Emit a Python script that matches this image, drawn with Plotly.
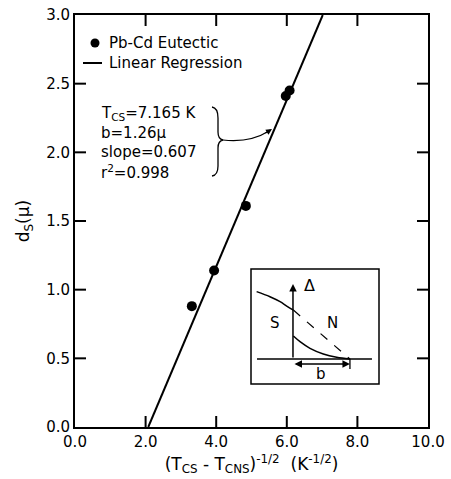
import plotly.graph_objects as go

# ---------------- data ----------------
x_eutectic = [3.31, 3.94, 4.84, 5.97, 6.08]
d_eutectic = [0.88, 1.14, 1.61, 2.41, 2.45]
fit_slope = 0.607
fit_b = 1.26            # d_s = slope * x - b
y_top = 3.0

x_tick_vals = [0, 2, 4, 6, 8, 10]
x_tick_text = ["0.0", "2.0", "4.0", "6.0", "8.0", "10.0"]
y_tick_vals = [0.0, 0.5, 1.0, 1.5, 2.0, 2.5, 3.0]
y_tick_text = ["0.0", "0.5", "1.0", "1.5", "2.0", "2.5", "3.0"]

legend_labels = ["Pb-Cd Eutectic", "Linear Regression"]
fit_text = ["T<sub>CS</sub>=7.165 K", "b=1.26μ", "slope=0.607", "r<sup>2</sup>=0.998"]

# inset schematic (normalised 0..1 coordinates inside the inset box)
inset_upper_x = [0.044, 0.148, 0.227, 0.279, 0.331]
inset_upper_y = [0.803, 0.759, 0.716, 0.678, 0.643]
inset_lower_x = [0.331, 0.383, 0.461, 0.565, 0.669, 0.773]
inset_lower_y = [0.417, 0.368, 0.310, 0.261, 0.232, 0.217]
inset_dash_x = [0.331, 0.773]
inset_dash_y = [0.643, 0.217]
inset_base_x = [0.047, 0.945]
inset_base_y = [0.217, 0.217]

FONT = "DejaVu Sans, Verdana, sans-serif"

# ---------- layout geometry ----------
W, H = 451, 479
ML, MR, MT, MB = 75, 23, 15, 52
PW, PH = W - ML - MR, H - MT - MB
X_MIN, X_MAX = 0.0, 10.0
Y_MIN, Y_MAX = 0.0, 3.0
TICK_PX = 11


def dx(px):
    return (px - ML) / PW * (X_MAX - X_MIN) + X_MIN


def dy(py):
    return (H - MB - py) / PH * (Y_MAX - Y_MIN) + Y_MIN


def pt(px, py):
    return f"{dx(px):.4f},{dy(py):.4f}"


# inset box in data coordinates of the main axes
IX0, IX1 = dx(251), dx(379)
IY0, IY1 = dy(384), dy(269)


def ix(u):
    return IX0 + u * (IX1 - IX0)


def iy(v):
    return IY0 + v * (IY1 - IY0)


# regression line between y=0 and y=3
fit_x = [(0.0 + fit_b) / fit_slope, (y_top + fit_b) / fit_slope]
fit_y = [fit_slope * v - fit_b for v in fit_x]

fig = go.Figure()

# inward tick marks on all four sides (drawn as line segments at the tick values)
tick_dy = TICK_PX / PH * (Y_MAX - Y_MIN)
tick_dx = TICK_PX / PW * (X_MAX - X_MIN)
tx, ty = [], []
for v in x_tick_vals:
    if X_MIN < v < X_MAX:
        tx += [v, v, None, v, v, None]
        ty += [Y_MIN, Y_MIN + tick_dy, None, Y_MAX, Y_MAX - tick_dy, None]
for v in y_tick_vals:
    if Y_MIN < v < Y_MAX:
        tx += [X_MIN, X_MIN + tick_dx, None, X_MAX, X_MAX - tick_dx, None]
        ty += [v, v, None, v, v, None]
fig.add_trace(go.Scatter(x=tx, y=ty, mode="lines", showlegend=False, hoverinfo="skip",
                         line=dict(color="black", width=2)))

fig.add_trace(go.Scatter(x=x_eutectic, y=d_eutectic, mode="markers",
                         name=legend_labels[0], showlegend=False,
                         marker=dict(color="black", size=10)))
fig.add_trace(go.Scatter(x=fit_x, y=fit_y, mode="lines",
                         name=legend_labels[1], showlegend=False,
                         line=dict(color="black", width=2)))

# inset traces
ins = dict(mode="lines", showlegend=False, hoverinfo="skip")
for xs, ys, ln in [
    (inset_upper_x, inset_upper_y, dict(color="black", width=1.5, shape="spline")),
    (inset_lower_x, inset_lower_y, dict(color="black", width=1.5, shape="spline")),
    (inset_dash_x, inset_dash_y, dict(color="black", width=1.2, dash="dash")),
    (inset_base_x, inset_base_y, dict(color="black", width=1.5)),
]:
    fig.add_trace(go.Scatter(x=[ix(u) for u in xs], y=[iy(v) for v in ys],
                             line=ln, **ins))

brace = ("M " + pt(212, 107) + " Q " + pt(218, 108) + " " + pt(218, 118)
         + " L " + pt(218, 132) + " Q " + pt(218, 139) + " " + pt(223, 140)
         + " Q " + pt(218, 141) + " " + pt(218, 148)
         + " L " + pt(218, 166) + " Q " + pt(218, 175) + " " + pt(212, 176))
curve = "M " + pt(223, 140) + " Q " + pt(250, 143) + " " + pt(269, 131)

shapes = [
    dict(type="path", xref="x", yref="y", path=brace,
         line=dict(color="black", width=1.3)),
    dict(type="path", xref="x", yref="y", path=curve,
         line=dict(color="black", width=1.2)),
    # legend symbols
    dict(type="circle", xref="x", yref="y", x0=dx(90.5), x1=dx(99.5),
         y0=dy(47.5), y1=dy(38.5), fillcolor="black", line=dict(color="black", width=0)),
    dict(type="line", xref="x", yref="y", x0=dx(83), x1=dx(102), y0=dy(63), y1=dy(63),
         line=dict(color="black", width=2)),
    # inset frame
    dict(type="rect", xref="x", yref="y", x0=IX0, x1=IX1, y0=IY0, y1=IY1,
         line=dict(color="black", width=1.5), fillcolor="rgba(0,0,0,0)"),
    # end tick of b arrow in inset
    dict(type="line", xref="x", yref="y", x0=ix(0.773), x1=ix(0.773),
         y0=iy(0.13), y1=iy(0.22), line=dict(color="black", width=1.3)),
]

annotations = []
for lab, py in zip(legend_labels, [43, 63]):
    annotations.append(dict(x=dx(107), y=dy(py), xref="x", yref="y", xanchor="left",
                            yanchor="middle", showarrow=False, text=lab,
                            font=dict(size=15, color="black", family=FONT)))
for line, py in zip(fit_text, [113, 133, 152, 172]):
    annotations.append(dict(x=dx(99), y=dy(py), xref="x", yref="y", xanchor="left",
                            yanchor="middle", showarrow=False, text=line,
                            font=dict(size=15, color="black", family=FONT)))
annotations += [
    # arrow head of the curved pointer
    dict(x=dx(272), y=dy(129), xref="x", yref="y", ax=-8, ay=5,
         showarrow=True, arrowhead=2, arrowsize=1, arrowwidth=1.2,
         arrowcolor="black", text=""),
    # inset: vertical Delta axis arrow
    dict(x=ix(0.328), y=iy(0.87), xref="x", yref="y", ax=ix(0.328), ay=iy(0.217),
         axref="x", ayref="y", showarrow=True, arrowhead=2, arrowsize=1,
         arrowwidth=1.5, arrowcolor="black", text=""),
    # inset: b double arrow
    dict(x=ix(0.773), y=iy(0.174), xref="x", yref="y", ax=ix(0.328), ay=iy(0.174),
         axref="x", ayref="y", showarrow=True, arrowhead=2, arrowside="end+start",
         arrowsize=1, arrowwidth=1.5, arrowcolor="black", text=""),
    dict(x=ix(0.46), y=iy(0.86), xref="x", yref="y", text="Δ", showarrow=False,
         font=dict(size=16, color="black", family=FONT)),
    dict(x=ix(0.19), y=iy(0.53), xref="x", yref="y", text="S", showarrow=False,
         font=dict(size=15, color="black", family=FONT)),
    dict(x=ix(0.64), y=iy(0.53), xref="x", yref="y", text="N", showarrow=False,
         font=dict(size=15, color="black", family=FONT)),
    dict(x=ix(0.547), y=iy(0.09), xref="x", yref="y", text="b", showarrow=False,
         font=dict(size=15, color="black", family=FONT)),
]

axis_common = dict(showgrid=False, zeroline=False, showline=True, linecolor="black",
                   linewidth=2, mirror=True, ticks="",
                   tickfont=dict(size=15, color="black", family=FONT))

fig.update_layout(
    width=W, height=H,
    margin=dict(l=ML, r=MR, t=MT, b=MB, autoexpand=False),
    paper_bgcolor="white", plot_bgcolor="white",
    font=dict(family=FONT, color="black"),
    showlegend=False,
    xaxis=dict(range=[X_MIN, X_MAX], tickvals=x_tick_vals, ticktext=x_tick_text,
               title=dict(text="(T<sub>CS</sub> - T<sub>CNS</sub>)<sup>-1/2</sup>  (K<sup>-1/2</sup>)",
                          font=dict(size=17, color="black", family=FONT), standoff=8),
               **axis_common),
    yaxis=dict(range=[Y_MIN, Y_MAX], tickvals=y_tick_vals, ticktext=y_tick_text,
               title=dict(text="d<sub>S</sub>(μ)",
                          font=dict(size=17, color="black", family=FONT), standoff=12),
               **axis_common),
    shapes=shapes,
    annotations=annotations,
)

fig.write_html("out.html")
